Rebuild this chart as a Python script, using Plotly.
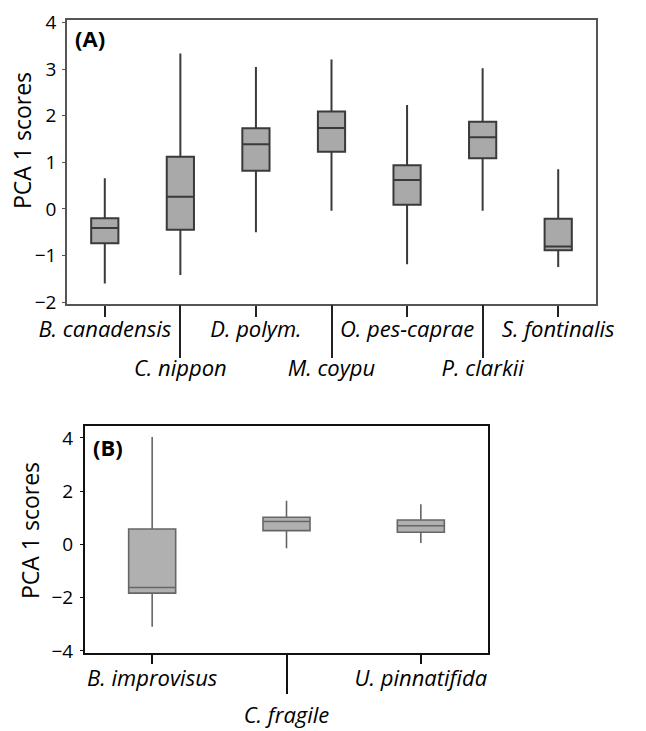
import plotly.graph_objects as go

# ---------------- data ----------------
categories_a = ["B. canadensis", "C. nippon", "D. polym.", "M. coypu",
                "O. pes-caprae", "P. clarkii", "S. fontinalis"]
lower_a  = [-1.60, -1.42, -0.50, -0.04, -1.19, -0.04, -1.25]
q1_a     = [-0.74, -0.45, 0.82, 1.23, 0.09, 1.09, -0.89]
median_a = [-0.41, 0.26, 1.39, 1.74, 0.62, 1.54, -0.81]
q3_a     = [-0.20, 1.12, 1.73, 2.09, 0.94, 1.87, -0.21]
upper_a  = [0.66, 3.34, 3.05, 3.21, 2.23, 3.02, 0.85]

categories_b = ["B. improvisus", "C. fragile", "U. pinnatifida"]
lower_b  = [-3.09, -0.14, 0.05]
q1_b     = [-1.83, 0.52, 0.46]
median_b = [-1.62, 0.86, 0.70]
q3_b     = [0.58, 1.02, 0.92]
upper_b  = [4.04, 1.64, 1.51]

yticks_a = [-2, -1, 0, 1, 2, 3, 4]
yticks_b = [-4, -2, 0, 2, 4]

FONT = "Open Sans"
pos_a = list(range(len(categories_a)))
pos_b = list(range(len(categories_b)))
even_a, odd_a = pos_a[0::2], pos_a[1::2]
even_b, odd_b = pos_b[0::2], pos_b[1::2]

fig = go.Figure()

fig.add_trace(go.Box(
    x=pos_a, q1=q1_a, median=median_a, q3=q3_a,
    lowerfence=lower_a, upperfence=upper_a,
    width=0.36, whiskerwidth=0, boxpoints=False,
    fillcolor="#a9a9a9", line=dict(color="#3a3a3a", width=2),
    xaxis="x", yaxis="y", showlegend=False, hoverinfo="skip"))

fig.add_trace(go.Box(
    x=pos_b, q1=q1_b, median=median_b, q3=q3_b,
    lowerfence=lower_b, upperfence=upper_b,
    width=0.35, whiskerwidth=0, boxpoints=False,
    fillcolor="#b0b0b0", line=dict(color="#666666", width=1.6),
    xaxis="x2", yaxis="y2", showlegend=False, hoverinfo="skip"))

# invisible anchors so the overlaid (staggered-label) axes are drawn
fig.add_trace(go.Scatter(
    x=odd_a, y=[median_a[i] for i in odd_a], mode="markers",
    marker=dict(opacity=0), xaxis="x3", yaxis="y",
    showlegend=False, hoverinfo="skip"))
fig.add_trace(go.Scatter(
    x=odd_b, y=[median_b[i] for i in odd_b], mode="markers",
    marker=dict(opacity=0), xaxis="x4", yaxis="y2",
    showlegend=False, hoverinfo="skip"))

tickfont_x = dict(family=FONT, size=22, color="#000", style="italic")
tickfont_y = dict(family=FONT, size=19, color="#000")

common = dict(showgrid=False, zeroline=False, automargin=False)

fig.update_layout(
    template="none",
    width=646, height=731,
    margin=dict(l=0, r=0, t=0, b=0, pad=0),
    paper_bgcolor="white", plot_bgcolor="white",
    showlegend=False,
    # ---- panel A ----
    xaxis=dict(domain=[67/646, 596/646], anchor="y", range=[-0.5, 6.5],
               tickvals=even_a, ticktext=[categories_a[i] for i in even_a],
               ticks="outside", ticklen=11, tickwidth=2, tickcolor="#222",
               tickfont=tickfont_x, showline=True, linecolor="#555",
               linewidth=1.5, mirror=True, ticklabelstandoff=-6, **common),
    xaxis3=dict(overlaying="x", anchor="y", side="bottom", range=[-0.5, 6.5],
                tickvals=odd_a, ticktext=[categories_a[i] for i in odd_a],
                ticks="outside", ticklen=53, tickwidth=2, tickcolor="#222",
                tickfont=tickfont_x, showline=False, ticklabelstandoff=-8,
                **common),
    yaxis=dict(domain=[1-304/731, 1-20/731], anchor="x",
               range=[-2.043, 4.058], tickvals=yticks_a,
               ticks="outside", ticklen=3, tickcolor="#555",
               tickfont=tickfont_y, showline=True, linecolor="#555",
               linewidth=1.5, mirror=True, ticklabelstandoff=2, **common),
    # ---- panel B ----
    xaxis2=dict(domain=[85/646, 488/646], anchor="y2", range=[-0.5, 2.5],
                tickvals=even_b, ticktext=[categories_b[i] for i in even_b],
                ticks="outside", ticklen=9, tickwidth=2, tickcolor="#111",
                tickfont=tickfont_x, showline=True, linecolor="#111",
                linewidth=2, mirror=True, ticklabelstandoff=-4, **common),
    xaxis4=dict(overlaying="x2", anchor="y2", side="bottom", range=[-0.5, 2.5],
                tickvals=odd_b, ticktext=[categories_b[i] for i in odd_b],
                ticks="outside", ticklen=40, tickwidth=2, tickcolor="#111",
                tickfont=tickfont_x, showline=False, ticklabelstandoff=3,
                **common),
    yaxis2=dict(domain=[1-653/731, 1-426/731], anchor="x2",
                range=[-4.08, 4.45], tickvals=yticks_b,
                ticks="outside", ticklen=3, tickcolor="#111",
                tickfont=tickfont_y, showline=True, linecolor="#111",
                linewidth=2, mirror=True, ticklabelstandoff=3, **common),
    annotations=[
        dict(text="<b>(A)</b>", xref="x domain", yref="y domain",
             x=0.012, y=0.937, xanchor="left", yanchor="middle",
             showarrow=False, font=dict(family=FONT, size=22, color="#000")),
        dict(text="<b>(B)</b>", xref="x2 domain", yref="y2 domain",
             x=0.015, y=0.907, xanchor="left", yanchor="middle",
             showarrow=False, font=dict(family=FONT, size=22, color="#000")),
        dict(text="PCA 1 scores", xref="paper", yref="paper",
             x=22/646, y=1-141/731, xanchor="center", yanchor="middle",
             textangle=-90, showarrow=False,
             font=dict(family=FONT, size=23, color="#000")),
        dict(text="PCA 1 scores", xref="paper", yref="paper",
             x=30/646, y=1-531/731, xanchor="center", yanchor="middle",
             textangle=-90, showarrow=False,
             font=dict(family=FONT, size=23, color="#000")),
    ],
)

fig.write_html("out.html")
